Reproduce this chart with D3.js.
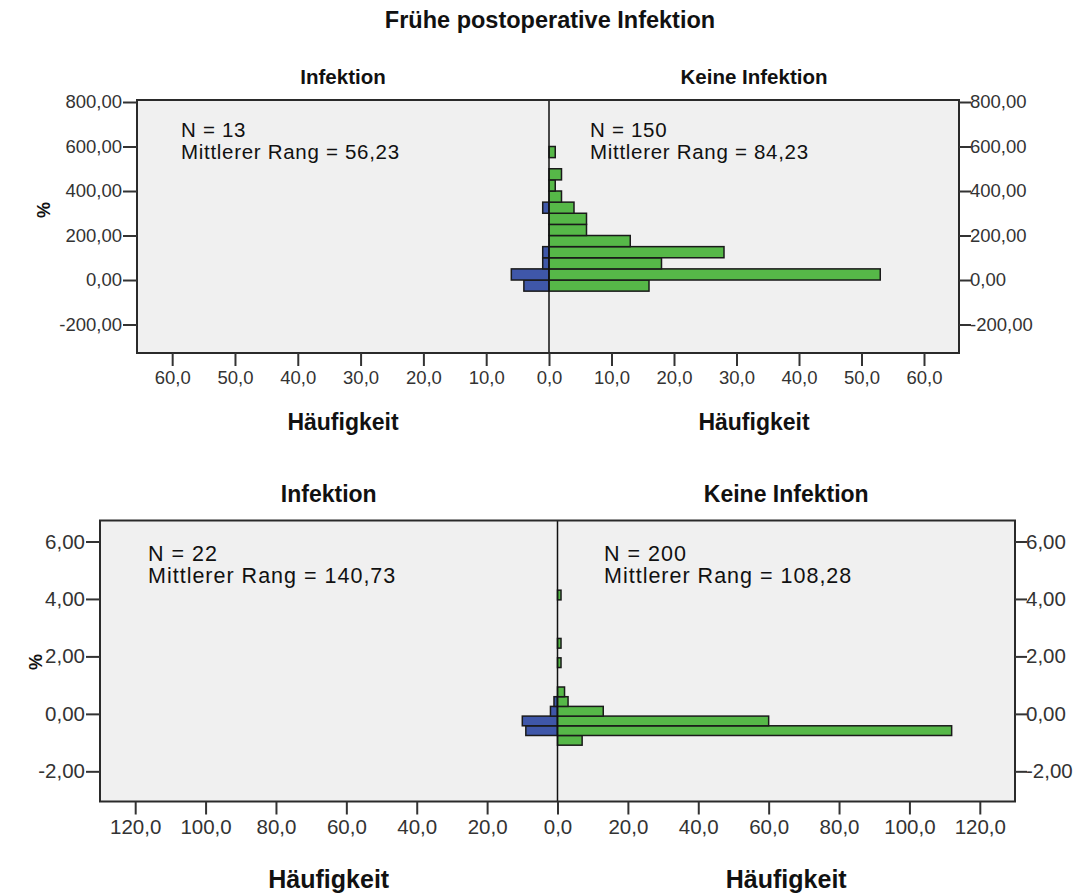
<html>
<head>
<meta charset="utf-8">
<title>population-pyramid</title>
<script src="https://d3js.org/d3.v7.min.js"></script>
<style>
  body { margin: 0; background: #fff; }
  svg text { font-family: "Liberation Sans", Arial, sans-serif; }
</style>
</head>
<body>
<script>
// top panel: bins of 50 (lower edges)
const topBinWidth = 50;
const topBins = [-50, 0, 50, 100, 150, 200, 250, 300, 350, 400, 450, 550];
const topInfektion = [4, 6, 1, 1, 0, 0, 0, 1, 0, 0, 0, 0];
const topKeine = [16, 53, 18, 28, 13, 6, 6, 4, 2, 1, 2, 1];
const topYTicks = [-200, 0, 200, 400, 600, 800];
const topXTicks = [0, 10, 20, 30, 40, 50, 60];
const topNotes = [["N = 13", "Mittlerer Rang = 56,23"], ["N = 150", "Mittlerer Rang = 84,23"]];

// bottom panel
const botBinWidth = 0.3375;
const botBins = [-1.09, -0.7525, -0.415, -0.0775, 0.26, 0.5975, 1.6125, 2.2875, 3.9675];
const botInfektion = [0, 9, 10, 2, 1, 0, 0, 0, 0];
const botKeine = [7, 112, 60, 13, 3, 2, 1, 1, 1];
const botYTicks = [-2, 0, 2, 4, 6];
const botXTicks = [0, 20, 40, 60, 80, 100, 120];
const botNotes = [["N = 22", "Mittlerer Rang = 140,73"], ["N = 200", "Mittlerer Rang = 108,28"]];

const groups = ["Infektion", "Keine Infektion"];

const W = 1081, H = 895;
const svg = d3.select("body").append("svg").attr("width", W).attr("height", H);

svg.append("text").attr("x", 550).attr("y", 28).attr("text-anchor", "middle")
  .attr("font-size", 23.5).attr("font-weight", "bold").attr("fill", "#111")
  .text("Frühe postoperative Infektion");

function drawPanel(p) {
  const g = svg.append("g");
  const cx = p.center;
  const xLeft = d3.scaleLinear().domain([0, p.xMax]).range([cx, p.left]);
  const xRight = d3.scaleLinear().domain([0, p.xMax]).range([cx, p.right]);
  const y = d3.scaleLinear().domain(p.yDomain).range([p.bottom, p.top]);

  g.append("rect").attr("x", p.left).attr("y", p.top)
    .attr("width", p.right - p.left).attr("height", p.bottom - p.top)
    .attr("fill", "#f0f0f0");

  const rows = p.bins.map((b, i) => ({ lo: b, hi: b + p.binWidth, a: p.left_vals[i], b: p.right_vals[i] }));

  g.selectAll(".barL").data(rows.filter(d => d.a > 0)).enter().append("rect")
    .attr("x", d => xLeft(d.a)).attr("y", d => y(d.hi))
    .attr("width", d => cx - xLeft(d.a)).attr("height", d => y(d.lo) - y(d.hi))
    .attr("fill", "#3f57a9").attr("stroke", "#1a1a1a").attr("stroke-width", 1.5);

  g.selectAll(".barR").data(rows.filter(d => d.b > 0)).enter().append("rect")
    .attr("x", cx).attr("y", d => y(d.hi))
    .attr("width", d => xRight(d.b) - cx).attr("height", d => y(d.lo) - y(d.hi))
    .attr("fill", "#56b848").attr("stroke", "#1a1a1a").attr("stroke-width", 1.5);

  g.append("line").attr("x1", cx).attr("x2", cx).attr("y1", p.top).attr("y2", p.bottom)
    .attr("stroke", "#111").attr("stroke-width", 1.5);

  g.append("rect").attr("x", p.left).attr("y", p.top)
    .attr("width", p.right - p.left).attr("height", p.bottom - p.top)
    .attr("fill", "none").attr("stroke", "#2a2a2a").attr("stroke-width", 2);

  const yFmt = d => d3.format(".2f")(d).replace(".", ",").replace("\u2212", "-");
  const xFmt = d => d3.format(".1f")(d).replace(".", ",");

  const axes = [
    g.append("g").attr("transform", `translate(${p.left},0)`)
      .call(d3.axisLeft(y).tickValues(p.yTicks).tickFormat(yFmt).tickSize(14).tickPadding(1)),
    g.append("g").attr("transform", `translate(${p.right},0)`)
      .call(d3.axisRight(y).tickValues(p.yTicks).tickFormat(yFmt).tickSize(12).tickPadding(-1)),
    g.append("g").attr("transform", `translate(0,${p.bottom})`)
      .call(d3.axisBottom(xLeft).tickValues(p.xTicks).tickFormat(xFmt).tickSize(13).tickPadding(5)),
    g.append("g").attr("transform", `translate(0,${p.bottom})`)
      .call(d3.axisBottom(xRight).tickValues(p.xTicks.slice(1)).tickFormat(xFmt).tickSize(13).tickPadding(5))
  ];
  axes.forEach(a => {
    a.select(".domain").remove();
    a.selectAll("line").attr("stroke", "#333").attr("stroke-width", 2);
    a.selectAll("text").attr("font-size", p.tickFont).attr("fill", "#333")
      .style("font-family", "'Liberation Sans', Arial, sans-serif");
  });

  const midL = (p.left + cx) / 2, midR = (cx + p.right) / 2;
  [midL, midR].forEach((m, i) => {
    g.append("text").attr("x", m).attr("y", p.headerY).attr("text-anchor", "middle")
      .attr("font-size", p.headFont).attr("font-weight", "bold").attr("fill", "#111").text(groups[i]);
    g.append("text").attr("x", m).attr("y", p.axisTitleY).attr("text-anchor", "middle")
      .attr("font-size", p.axisTitleFont).attr("font-weight", "bold").attr("fill", "#111").text("Häufigkeit");
  });

  p.notes.forEach((n, i) => {
    const tx = i === 0 ? p.noteXL : p.noteXR;
    n.forEach((line, j) => {
      g.append("text").attr("x", tx).attr("y", p.noteY + j * p.noteGap)
        .attr("font-size", p.noteFont).attr("letter-spacing", p.noteSpacing)
        .attr("fill", "#111").text(line);
    });
  });

  g.append("text").attr("transform", `translate(${p.pctX},${p.pctY}) rotate(-90)`)
    .attr("text-anchor", "middle").attr("font-size", 18).attr("font-weight", "bold")
    .attr("fill", "#111").text("%");
}

drawPanel({
  left: 137, right: 959, top: 100, bottom: 353, center: 549, xMax: 65.6,
  yDomain: [-328, 809], bins: topBins, binWidth: topBinWidth,
  left_vals: topInfektion, right_vals: topKeine,
  yTicks: topYTicks, xTicks: topXTicks, tickFont: 18.5,
  headerY: 84, headFont: 20.5, axisTitleY: 430, axisTitleFont: 23,
  notes: topNotes, noteXL: 181, noteXR: 590, noteY: 137, noteGap: 22, noteFont: 20.5, noteSpacing: 0.7,
  pctX: 50, pctY: 210
});

drawPanel({
  left: 100, right: 1015, top: 520.5, bottom: 801.5, center: 557.5, xMax: 130,
  yDomain: [-3.05, 6.73], bins: botBins, binWidth: botBinWidth,
  left_vals: botInfektion, right_vals: botKeine,
  yTicks: botYTicks, xTicks: botXTicks, tickFont: 20.5,
  headerY: 502, headFont: 23, axisTitleY: 888, axisTitleFont: 25,
  notes: botNotes, noteXL: 148, noteXR: 604, noteY: 561, noteGap: 22, noteFont: 21.5, noteSpacing: 1,
  pctX: 42, pctY: 662
});
</script>
</body>
</html>
